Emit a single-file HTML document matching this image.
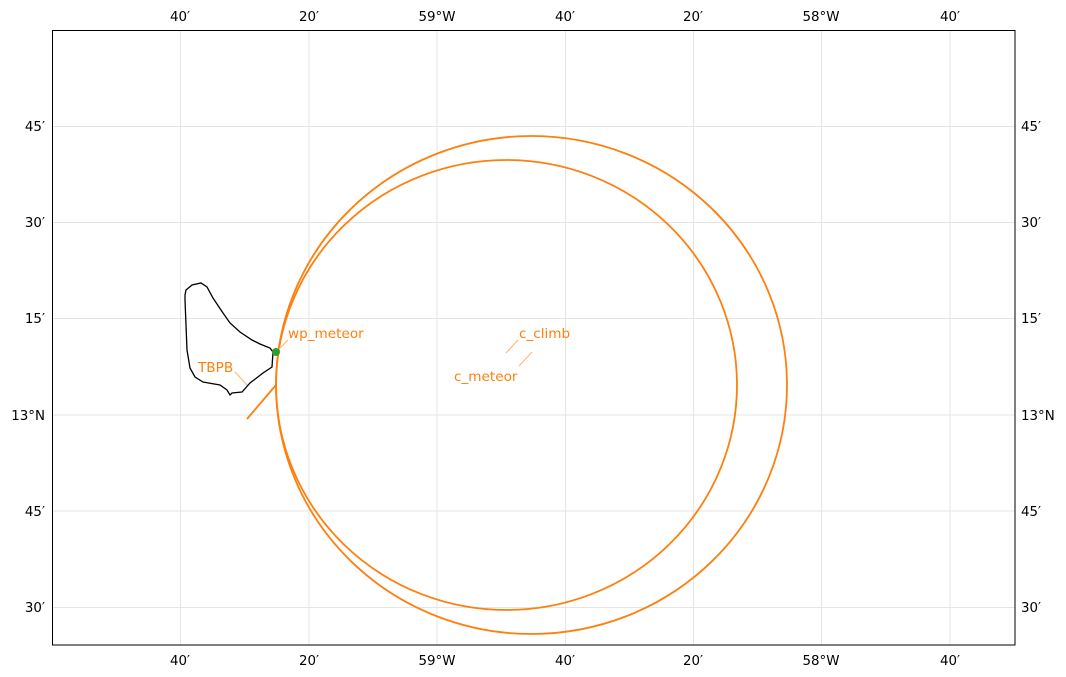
<!DOCTYPE html>
<html><head><style>body{margin:0;background:#fff}svg{display:block;font-family:"DejaVu Sans","Liberation Sans",sans-serif}</style></head><body>
<svg width="1066" height="677" viewBox="0 0 1066 677">
<g stroke="#e5e5e5" stroke-width="1">
<line x1="180.5" y1="30" x2="180.5" y2="645"/><line x1="309" y1="30" x2="309" y2="645"/><line x1="437" y1="30" x2="437" y2="645"/><line x1="565.5" y1="30" x2="565.5" y2="645"/><line x1="693.5" y1="30" x2="693.5" y2="645"/><line x1="821.5" y1="30" x2="821.5" y2="645"/><line x1="950" y1="30" x2="950" y2="645"/>
<line x1="52" y1="126.5" x2="1015" y2="126.5"/><line x1="52" y1="222.5" x2="1015" y2="222.5"/><line x1="52" y1="318.5" x2="1015" y2="318.5"/><line x1="52" y1="415" x2="1015" y2="415"/><line x1="52" y1="511" x2="1015" y2="511"/><line x1="52" y1="607.5" x2="1015" y2="607.5"/>
</g>
<polygon fill="none" stroke="#000" stroke-width="1.3" points="185,295 186,290 192,285 201,283 207,287 213,298 223,313 230,323 240,332 252,340 260,344 270,348 273,352 272,367 263,373 250,383 242,392 232,393 230,395 227,390 220,385 203,382 195,377 190,368 187,350 185,300"/>
<g fill="none" stroke="#ff7f0e" stroke-width="1.8">
<ellipse cx="531.5" cy="385" rx="255.5" ry="249"/>
<ellipse cx="506.5" cy="385" rx="230.5" ry="225"/>
<line x1="247" y1="419" x2="276" y2="385"/>
</g>
<g stroke="#ffbb78" stroke-width="1.2">
<line x1="235" y1="372" x2="247" y2="385"/><line x1="278" y1="350" x2="288" y2="340"/><line x1="506" y1="353" x2="518" y2="340"/><line x1="519" y1="366" x2="532" y2="352"/>
</g>
<circle cx="276" cy="352" r="4" fill="#2ca02c"/>
<g fill="#ff7f0e" font-size="13.6">
<text x="198" y="372">TBPB</text><text x="288" y="338">wp_meteor</text><text x="519" y="338">c_climb</text><text x="454" y="381">c_meteor</text>
</g>
<rect x="52.5" y="30.5" width="962.5" height="614.5" fill="none" stroke="#000" stroke-width="1"/>
<g font-size="13.4" fill="#000" text-anchor="middle">
<text x="180" y="21">40′</text><text x="309" y="21">20′</text><text x="437" y="21">59°W</text><text x="565" y="21">40′</text><text x="693" y="21">20′</text><text x="821" y="21">58°W</text><text x="950" y="21">40′</text>
<text x="180" y="665">40′</text><text x="309" y="665">20′</text><text x="437" y="665">59°W</text><text x="565" y="665">40′</text><text x="693" y="665">20′</text><text x="821" y="665">58°W</text><text x="950" y="665">40′</text>
</g>
<g font-size="13.4" fill="#000" text-anchor="end">
<text x="45" y="131">45′</text><text x="45" y="227">30′</text><text x="45" y="323">15′</text><text x="45" y="420">13°N</text><text x="45" y="516">45′</text><text x="45" y="612">30′</text>
</g>
<g font-size="13.4" fill="#000">
<text x="1021" y="131">45′</text><text x="1021" y="227">30′</text><text x="1021" y="323">15′</text><text x="1021" y="420">13°N</text><text x="1021" y="516">45′</text><text x="1021" y="612">30′</text>
</g>
</svg>
</body></html>
